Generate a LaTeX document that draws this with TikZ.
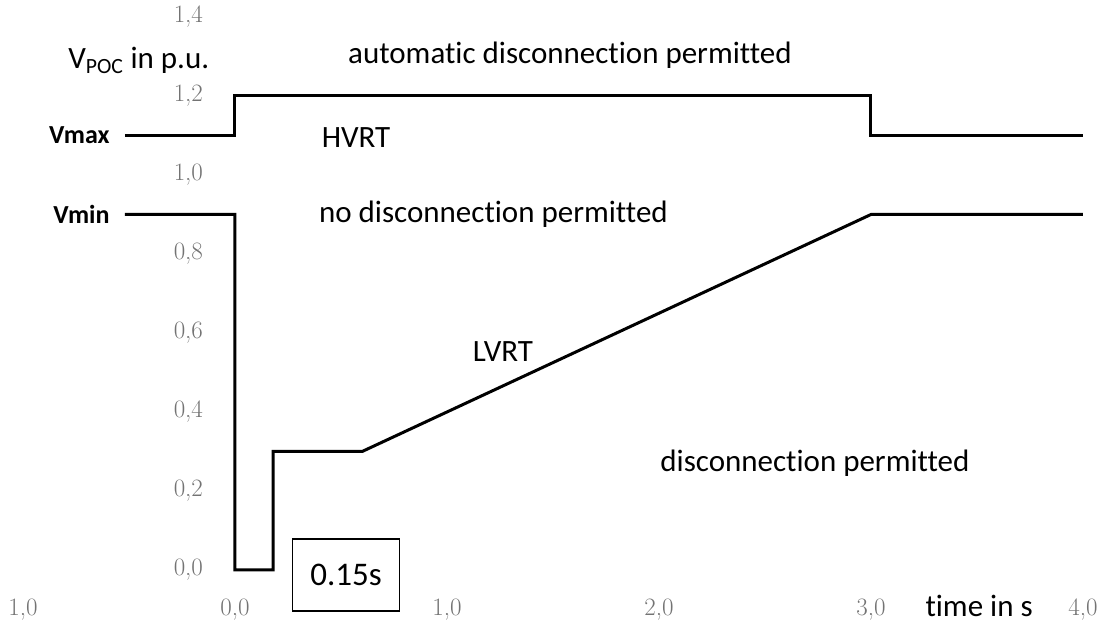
\documentclass[tikz,border=0pt]{standalone}
\usepackage{fontspec}
\newfontfamily\carlito[Ligatures=NoCommon]{Carlito}
\usepackage{tikz}

\begin{document}
\begin{tikzpicture}[x=212pt, y=395pt,
  curve/.style = {line width=3pt, line join=miter},
  lbl/.style = {font=\carlito\fontsize{31}{36}\selectfont},
  tick/.style = {font=\fontsize{25}{30}\selectfont, text=black!55},
  lim/.style = {font=\carlito\bfseries\fontsize{26}{30}\selectfont, anchor=east}]
\useasboundingbox (-1.1085,-0.1392) rectangle (4.0991,1.4430);

% y axis labels
\node[tick] (v14) at (-0.22,1.4) {1,4};
\node[tick] (v12) at (-0.22,1.2) {1,2};
\node[tick] (v10) at (-0.22,1.0) {1,0};
\node[tick] (v08) at (-0.22,0.8) {0,8};
\node[tick] (v06) at (-0.22,0.6) {0,6};
\node[tick] (v04) at (-0.22,0.4) {0,4};
\node[tick] (v02) at (-0.22,0.2) {0,2};
\node[tick] (v00) at (-0.22,0.0) {0,0};
\node[lbl, anchor=east] (vaxis) at (-0.105,1.29) {V\textsubscript{POC} in p.u.};

% x axis labels
\node[tick] (tm1) at (-1,-0.1) {1,0};
\node[tick] (t0) at (0,-0.1) {0,0};
\node[tick] (t1) at (1,-0.1) {1,0};
\node[tick] (t2) at (2,-0.1) {2,0};
\node[tick] (t3) at (3,-0.1) {3,0};
\node[tick] (t4) at (4,-0.1) {4,0};
\node[lbl, inner sep=1pt] (taxis) at (3.51,-0.092) {time in s};

% limits
\node[lim] (vmax) at (-0.575,1.1) {Vmax};
\node[lim] (vmin) at (-0.575,0.9) {Vmin};

% HVRT curve
\draw[curve] (-0.519,1.1) -- (0,1.1) -- (0,1.2) -- (3,1.2) -- (3,1.1) -- (4,1.1);
% LVRT curve
\draw[curve] (-0.519,0.9) -- (0,0.9) -- (0,0) -- (0.18,0) -- (0.18,0.3)
  -- (0.6,0.3) -- (3,0.9) -- (4,0.9);

% regions
\node[lbl] (auto) at (1.58,1.304) {automatic disconnection permitted};
\node[lbl] (hvrt) at (0.571,1.094) {HVRT};
\node[lbl, anchor=west] (nodisc) at (0.38,0.9) {no disconnection permitted};
\node[lbl] (lvrt) at (1.264,0.552) {LVRT};
\node[lbl, anchor=west] (disc) at (1.99,0.27) {disconnection permitted};

\node[lbl, draw, line width=1.6pt, font=\carlito\fontsize{33}{38}\selectfont,
  minimum width=107pt, minimum height=72pt] (dur) at (0.524,-0.013) {0.15s};
\end{tikzpicture}
\end{document}
